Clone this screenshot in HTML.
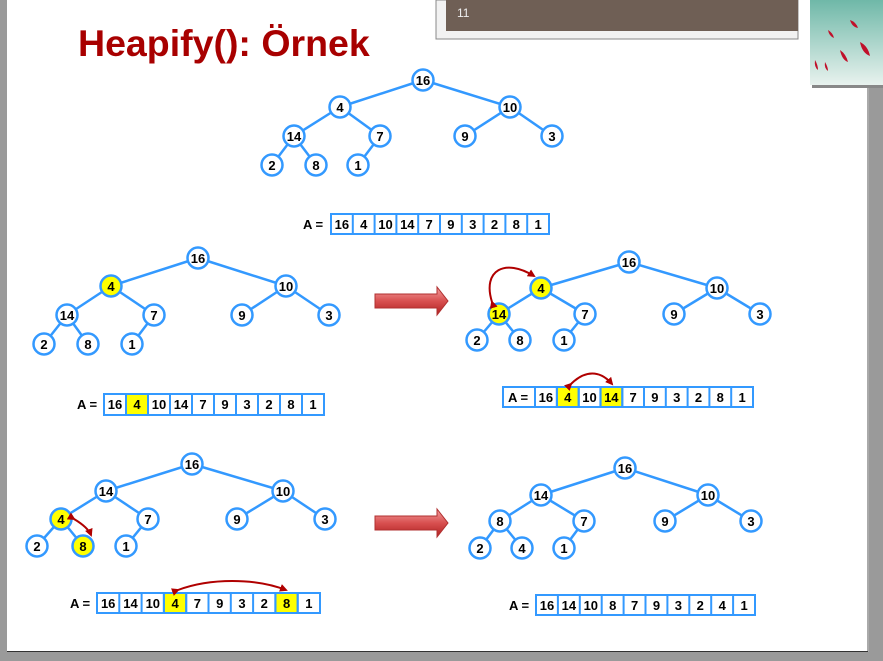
<!DOCTYPE html>
<html><head><meta charset="utf-8"><style>
html,body{margin:0;padding:0;background:#fff}
svg{display:block}
text{font-family:"Liberation Sans",Arial,sans-serif;font-weight:bold}
</style></head><body>
<svg width="883" height="661" viewBox="0 0 883 661" xmlns="http://www.w3.org/2000/svg">
<defs>
<linearGradient id="ag" x1="0" y1="0" x2="0" y2="1"><stop offset="0" stop-color="#f4a0a0"/><stop offset="0.5" stop-color="#d85050"/><stop offset="1" stop-color="#b02020"/></linearGradient>
<linearGradient id="pic" x1="0" y1="0" x2="0" y2="1"><stop offset="0" stop-color="#6fb8a8"/><stop offset="1" stop-color="#e8f2ee"/></linearGradient>
<marker id="rh" markerWidth="8" markerHeight="8" refX="6" refY="4" orient="auto" markerUnits="userSpaceOnUse"><path d="M0,0 L8,4 L0,8 z" fill="#b00000"/></marker>
</defs>
<rect width="883" height="661" fill="#fff"/>
<rect x="0" y="0" width="7" height="661" fill="#9a9a9a"/>
<rect x="0" y="652" width="883" height="9" fill="#9a9a9a"/>
<rect x="869" y="88" width="14" height="573" fill="#9a9a9a"/>
<line x1="868" y1="88" x2="868" y2="652" stroke="#555" stroke-width="1"/>
<line x1="7" y1="651.5" x2="868" y2="651.5" stroke="#333" stroke-width="1"/>
<rect x="436" y="0" width="362" height="39" fill="#f2f2f2" stroke="#888" stroke-width="1"/>
<rect x="446" y="0" width="352" height="31" fill="#6f5f55"/>
<text x="457" y="17" fill="#eee" font-size="12" style="font-weight:normal">11</text>
<rect x="812" y="2" width="71" height="86" fill="#888"/>
<rect x="810" y="0" width="73" height="85" fill="url(#pic)"/>
<path d="M840 50 q6 4 8 12 q-6-2-8-12z M860 42 q8 4 10 14 q-8-3-10-14z M828 30 q5 3 6 8 q-5-2-6-8z M815 60 q3 5 3 10 q-4-3-3-10z M825 62 q3 5 3 9 q-4-3-3-9z M850 20 q6 2 8 8 q-6-1-8-8z" fill="#c0102a"/>
<text x="78" y="56" fill="#a80000" font-size="37.5">Heapify(): Örnek</text>

<g stroke="#3399ff" stroke-width="2.5" fill="none">
<path d="M423 80L340 107M423 80L510 107M340 107L294 136M340 107L380 136M510 107L465 136M510 107L552 136M294 136L272 165M294 136L316 165M380 136L358 165"/>
<path d="M198 258L111 286M198 258L286 286M111 286L67 315M111 286L154 315M286 286L242 315M286 286L329 315M67 315L44 344M67 315L88 344M154 315L132 344"/>
<path d="M629 262L541 288M629 262L717 288M541 288L499 314M541 288L585 314M717 288L674 314M717 288L760 314M499 314L477 340M499 314L520 340M585 314L564 340"/>
<path d="M192 464L106 491M192 464L283 491M106 491L61 519M106 491L148 519M283 491L237 519M283 491L325 519M61 519L37 546M61 519L83 546M148 519L126 546"/>
<path d="M625 468L541 495M625 468L708 495M541 495L500 521M541 495L584 521M708 495L665 521M708 495L751 521M500 521L480 548M500 521L522 548M584 521L564 548"/>
</g>

<g stroke="#3399ff" stroke-width="2.5" fill="#fff">
<circle cx="423" cy="80" r="10.5"/><circle cx="340" cy="107" r="10.5"/><circle cx="510" cy="107" r="10.5"/><circle cx="294" cy="136" r="10.5"/><circle cx="380" cy="136" r="10.5"/><circle cx="465" cy="136" r="10.5"/><circle cx="552" cy="136" r="10.5"/><circle cx="272" cy="165" r="10.5"/><circle cx="316" cy="165" r="10.5"/><circle cx="358" cy="165" r="10.5"/>
<circle cx="198" cy="258" r="10.5"/><circle cx="111" cy="286" r="10.5" fill="#ffff00"/><circle cx="286" cy="286" r="10.5"/><circle cx="67" cy="315" r="10.5"/><circle cx="154" cy="315" r="10.5"/><circle cx="242" cy="315" r="10.5"/><circle cx="329" cy="315" r="10.5"/><circle cx="44" cy="344" r="10.5"/><circle cx="88" cy="344" r="10.5"/><circle cx="132" cy="344" r="10.5"/>
<circle cx="629" cy="262" r="10.5"/><circle cx="541" cy="288" r="10.5" fill="#ffff00"/><circle cx="717" cy="288" r="10.5"/><circle cx="499" cy="314" r="10.5" fill="#ffff00"/><circle cx="585" cy="314" r="10.5"/><circle cx="674" cy="314" r="10.5"/><circle cx="760" cy="314" r="10.5"/><circle cx="477" cy="340" r="10.5"/><circle cx="520" cy="340" r="10.5"/><circle cx="564" cy="340" r="10.5"/>
<circle cx="192" cy="464" r="10.5"/><circle cx="106" cy="491" r="10.5"/><circle cx="283" cy="491" r="10.5"/><circle cx="61" cy="519" r="10.5" fill="#ffff00"/><circle cx="148" cy="519" r="10.5"/><circle cx="237" cy="519" r="10.5"/><circle cx="325" cy="519" r="10.5"/><circle cx="37" cy="546" r="10.5"/><circle cx="83" cy="546" r="10.5" fill="#ffff00"/><circle cx="126" cy="546" r="10.5"/>
<circle cx="625" cy="468" r="10.5"/><circle cx="541" cy="495" r="10.5"/><circle cx="708" cy="495" r="10.5"/><circle cx="500" cy="521" r="10.5"/><circle cx="584" cy="521" r="10.5"/><circle cx="665" cy="521" r="10.5"/><circle cx="751" cy="521" r="10.5"/><circle cx="480" cy="548" r="10.5"/><circle cx="522" cy="548" r="10.5"/><circle cx="564" cy="548" r="10.5"/>
</g>

<g font-size="13" text-anchor="middle" fill="#000">
<text x="423" y="85">16</text><text x="340" y="112">4</text><text x="510" y="112">10</text><text x="294" y="141">14</text><text x="380" y="141">7</text><text x="465" y="141">9</text><text x="552" y="141">3</text><text x="272" y="170">2</text><text x="316" y="170">8</text><text x="358" y="170">1</text>
<text x="198" y="263">16</text><text x="111" y="291">4</text><text x="286" y="291">10</text><text x="67" y="320">14</text><text x="154" y="320">7</text><text x="242" y="320">9</text><text x="329" y="320">3</text><text x="44" y="349">2</text><text x="88" y="349">8</text><text x="132" y="349">1</text>
<text x="629" y="267">16</text><text x="541" y="293">4</text><text x="717" y="293">10</text><text x="499" y="319">14</text><text x="585" y="319">7</text><text x="674" y="319">9</text><text x="760" y="319">3</text><text x="477" y="345">2</text><text x="520" y="345">8</text><text x="564" y="345">1</text>
<text x="192" y="469">16</text><text x="106" y="496">14</text><text x="283" y="496">10</text><text x="61" y="524">4</text><text x="148" y="524">7</text><text x="237" y="524">9</text><text x="325" y="524">3</text><text x="37" y="551">2</text><text x="83" y="551">8</text><text x="126" y="551">1</text>
<text x="625" y="473">16</text><text x="541" y="500">14</text><text x="708" y="500">10</text><text x="500" y="526">8</text><text x="584" y="526">7</text><text x="665" y="526">9</text><text x="751" y="526">3</text><text x="480" y="553">2</text><text x="522" y="553">4</text><text x="564" y="553">1</text>
</g>

<g stroke="#3399ff" stroke-width="2" fill="#fff">
<rect x="331" y="214" width="218" height="20"/>
<rect x="104" y="394" width="220" height="21"/>
<rect x="126" y="394" width="22" height="21" fill="#ffff00"/>
<rect x="503" y="387" width="250" height="20"/>
<rect x="557" y="387" width="21.8" height="20" fill="#ffff00"/>
<rect x="600.6" y="387" width="21.8" height="20" fill="#ffff00"/>
<rect x="97" y="593" width="223" height="20"/>
<rect x="163.9" y="593" width="22.3" height="20" fill="#ffff00"/>
<rect x="275.4" y="593" width="22.3" height="20" fill="#ffff00"/>
<rect x="536" y="595" width="219" height="20"/>
</g>
<g stroke="#3399ff" stroke-width="2">
<path d="M352.8 214v20M374.6 214v20M396.4 214v20M418.2 214v20M440 214v20M461.8 214v20M483.6 214v20M505.4 214v20M527.2 214v20"/>
<path d="M126 394v21M148 394v21M170 394v21M192 394v21M214 394v21M236 394v21M258 394v21M280 394v21M302 394v21"/>
<path d="M535 387v20M556.8 387v20M578.6 387v20M600.4 387v20M622.2 387v20M644 387v20M665.8 387v20M687.6 387v20M709.4 387v20M731.2 387v20"/>
<path d="M119.3 593v20M141.6 593v20M163.9 593v20M186.2 593v20M208.5 593v20M230.8 593v20M253.1 593v20M275.4 593v20M297.7 593v20"/>
<path d="M557.9 595v20M579.8 595v20M601.7 595v20M623.6 595v20M645.5 595v20M667.4 595v20M689.3 595v20M711.2 595v20M733.1 595v20"/>
</g>
<g font-size="13" fill="#000">
<text x="303" y="229">A =</text>
<text x="77" y="409">A =</text>
<text x="70" y="608">A =</text>
<text x="509" y="610">A =</text>
<text x="508" y="402">A =</text>
</g>
<g font-size="13" text-anchor="middle" fill="#000">
<text x="341.9" y="229">16</text><text x="363.7" y="229">4</text><text x="385.5" y="229">10</text><text x="407.3" y="229">14</text><text x="429.1" y="229">7</text><text x="450.9" y="229">9</text><text x="472.7" y="229">3</text><text x="494.5" y="229">2</text><text x="516.3" y="229">8</text><text x="538.1" y="229">1</text>
<text x="115" y="409">16</text><text x="137" y="409">4</text><text x="159" y="409">10</text><text x="181" y="409">14</text><text x="203" y="409">7</text><text x="225" y="409">9</text><text x="247" y="409">3</text><text x="269" y="409">2</text><text x="291" y="409">8</text><text x="313" y="409">1</text>
<text x="545.9" y="402">16</text><text x="567.7" y="402">4</text><text x="589.5" y="402">10</text><text x="611.3" y="402">14</text><text x="633.1" y="402">7</text><text x="654.9" y="402">9</text><text x="676.7" y="402">3</text><text x="698.5" y="402">2</text><text x="720.3" y="402">8</text><text x="742.1" y="402">1</text>
<text x="108.2" y="608">16</text><text x="130.5" y="608">14</text><text x="152.8" y="608">10</text><text x="175.1" y="608">4</text><text x="197.4" y="608">7</text><text x="219.7" y="608">9</text><text x="242" y="608">3</text><text x="264.3" y="608">2</text><text x="286.6" y="608">8</text><text x="308.9" y="608">1</text>
<text x="547" y="610">16</text><text x="568.9" y="610">14</text><text x="590.8" y="610">10</text><text x="612.7" y="610">8</text><text x="634.6" y="610">7</text><text x="656.5" y="610">9</text><text x="678.4" y="610">3</text><text x="700.3" y="610">2</text><text x="722.2" y="610">4</text><text x="744.1" y="610">1</text>
</g>

<path d="M375 294H437V287L448 301L437 315V308H375Z" fill="url(#ag)" stroke="#b03030" stroke-width="1"/>
<path d="M375 516H437V509L448 523L437 537V530H375Z" fill="url(#ag)" stroke="#b03030" stroke-width="1"/>

<g stroke="#b00000" stroke-width="2" fill="none">
<path d="M492 302 C482 270 505 258 534 276" marker-start="url(#rh)" marker-end="url(#rh)"/>
<path d="M571 384 C585 370 600 370 612 384" marker-start="url(#rh)" marker-end="url(#rh)"/>
<path d="M74 519 C84 525 89 530 91 535" marker-start="url(#rh)" marker-end="url(#rh)"/>
<path d="M178 590 C210 578 255 578 286 590" marker-start="url(#rh)" marker-end="url(#rh)"/>
</g>
</svg>
</body></html>
